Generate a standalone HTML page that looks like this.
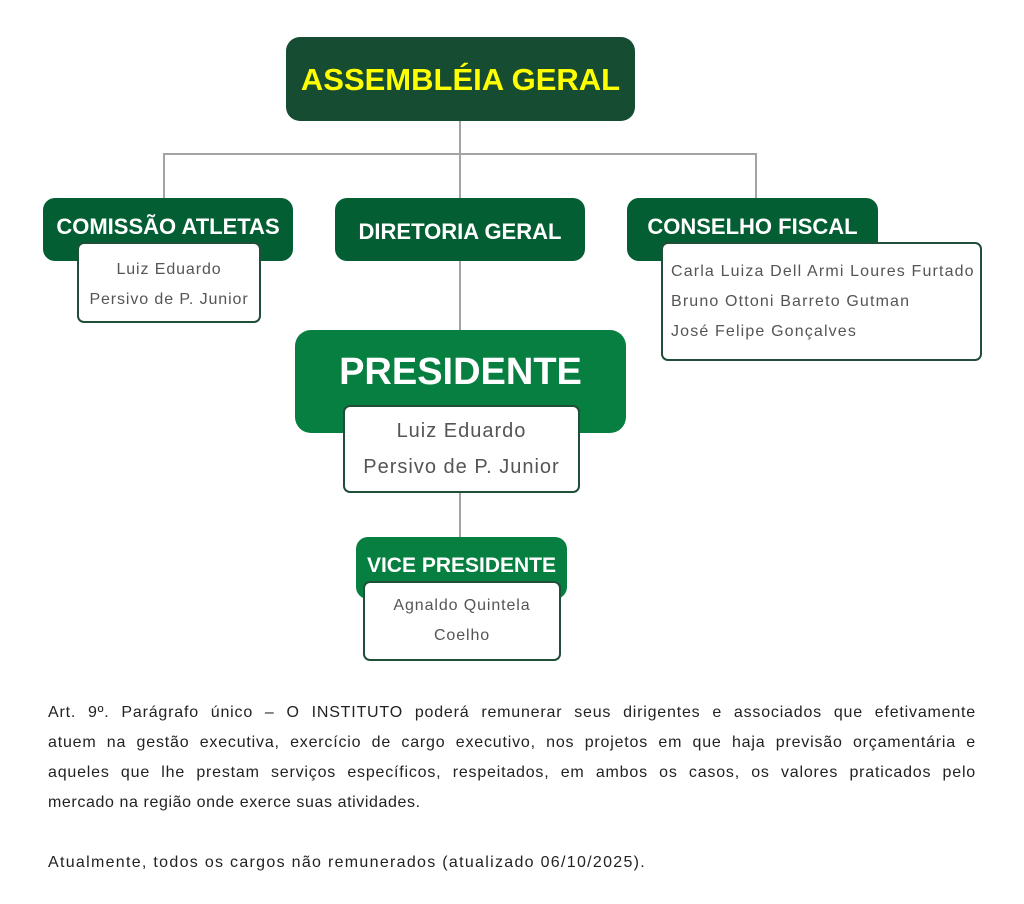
<!DOCTYPE html>
<html><head><meta charset="utf-8"><style>
*{margin:0;padding:0;box-sizing:border-box}
body{width:1024px;height:904px;background:#fff;position:relative;font-family:"Liberation Sans",sans-serif;overflow:hidden}
.b{position:absolute;color:#fff;font-weight:bold;text-align:center;border-radius:12px;white-space:nowrap}
.s{position:absolute;background:#fff;border:2px solid #1f4f38;border-radius:7px;color:#555;text-align:center;font-size:16px;letter-spacing:0.9px;white-space:nowrap}
.l{position:absolute;background:#a3a3a3}
.p{position:absolute;left:48px;width:928px;font-size:16px;color:#222;white-space:nowrap;letter-spacing:1.3px}
.j{text-align:justify;text-align-last:justify;white-space:normal;letter-spacing:0.8px}
</style></head><body>
<div class="l" style="left:459px;top:121px;width:2px;height:77px"></div>
<div class="l" style="left:163px;top:153px;width:594px;height:2px"></div>
<div class="l" style="left:163px;top:153px;width:2px;height:45px"></div>
<div class="l" style="left:755px;top:153px;width:2px;height:45px"></div>
<div class="l" style="left:459px;top:261px;width:2px;height:70px"></div>
<div class="l" style="left:459px;top:492px;width:2px;height:46px"></div>

<div class="b" style="left:286px;top:37px;width:349px;height:84px;background:#164d32;color:#ffff00;font-size:31px;line-height:86px;border-radius:14px">ASSEMBLÉIA GERAL</div>

<div class="b" style="left:43px;top:198px;width:250px;height:63px;background:#035f33;font-size:22px;line-height:58px">COMISSÃO ATLETAS</div>
<div class="s" style="left:77px;top:242px;width:184px;height:81px;line-height:30px;padding-top:11px">Luiz Eduardo<br>Persivo de P. Junior</div>

<div class="b" style="left:335px;top:198px;width:250px;height:63px;background:#035f33;font-size:22px;line-height:68px">DIRETORIA GERAL</div>

<div class="b" style="left:627px;top:198px;width:251px;height:63px;background:#035f33;font-size:22px;line-height:58px">CONSELHO FISCAL</div>
<div class="s" style="left:661px;top:242px;width:321px;height:119px;line-height:30px;padding-top:13px;padding-left:8px;text-align:left;letter-spacing:1.15px">Carla Luiza Dell Armi Loures Furtado<br>Bruno Ottoni Barreto Gutman<br>José Felipe Gonçalves</div>

<div class="b" style="left:295px;top:330px;width:331px;height:103px;background:#077f40;font-size:38px;line-height:84px;border-radius:16px">PRESIDENTE</div>
<div class="s" style="left:343px;top:405px;width:237px;height:88px;line-height:36px;padding-top:6px;font-size:20px;letter-spacing:1px">Luiz Eduardo<br>Persivo de P. Junior</div>

<div class="b" style="left:356px;top:537px;width:211px;height:62px;background:#077f40;font-size:21px;line-height:58px">VICE PRESIDENTE</div>
<div class="s" style="left:363px;top:581px;width:198px;height:80px;line-height:30px;padding-top:8px">Agnaldo Quintela<br>Coelho</div>

<div class="p j" style="top:704px">Art. 9º. Parágrafo único – O INSTITUTO poderá remunerar seus dirigentes e associados que efetivamente</div>
<div class="p j" style="top:734px">atuem na gestão executiva, exercício de cargo executivo, nos projetos em que haja previsão orçamentária e</div>
<div class="p j" style="top:764px">aqueles que lhe prestam serviços específicos, respeitados, em ambos os casos, os valores praticados pelo</div>
<div class="p" style="top:794px;letter-spacing:0.6px">mercado na região onde exerce suas atividades.</div>
<div class="p" style="top:854px">Atualmente, todos os cargos não remunerados (atualizado 06/10/2025).</div>
</body></html>
